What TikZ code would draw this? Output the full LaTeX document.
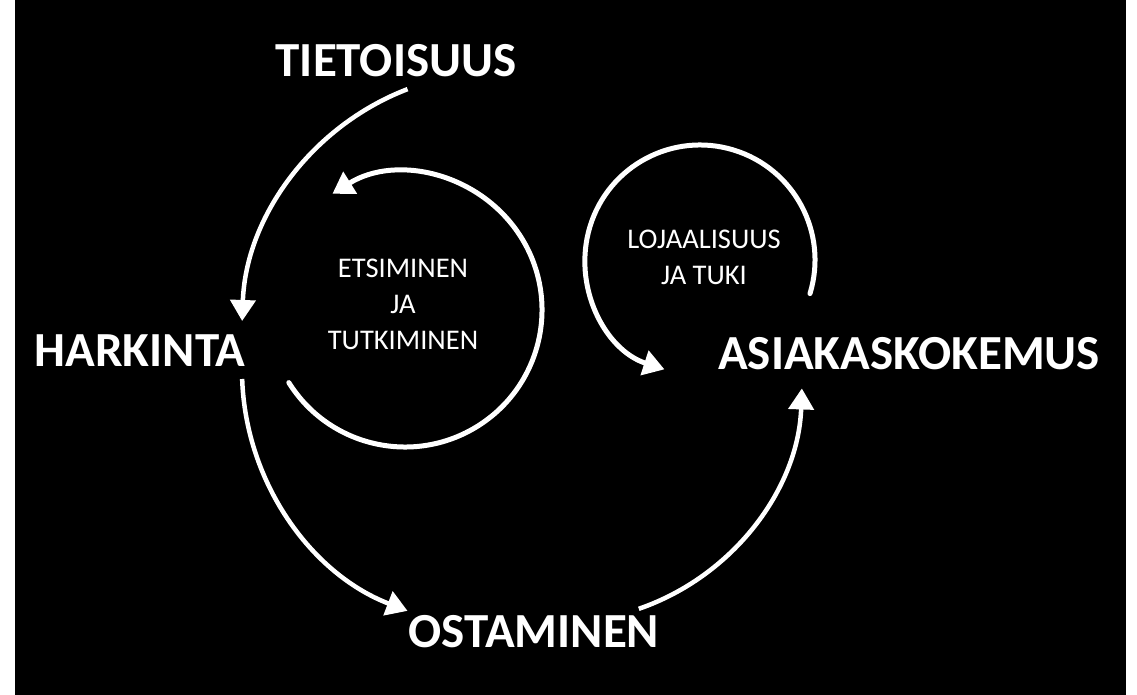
\documentclass[tikz,border=0pt]{standalone}
\usepackage{fontspec}
\setmainfont{Carlito}
\usepackage{tikz}
\usetikzlibrary{arrows.meta,calc}
\definecolor{tausta}{HTML}{000000}
\definecolor{reuna}{HTML}{FFFFFF}
\definecolor{valko}{HTML}{FFFFFF}
\tikzset{
  kaari/.style={draw=valko,line width=4.5pt,-{Triangle[length=21pt,width=25pt]}},
  rengas/.style={draw=valko,line width=5pt,line cap=round,-{Triangle[length=21pt,width=25pt]}},
  vaihe/.style={text=valko,font=\fontsize{49}{58}\selectfont\bfseries,inner sep=0pt,anchor=base},
  selite/.style={text=valko,font=\fontsize{28.5}{36}\selectfont,align=center,inner sep=0pt},
}

\begin{document}
\begin{tikzpicture}[x=1pt,y=1pt]
\useasboundingbox (0,0) rectangle (1137,695);
\fill[reuna] (0,0) rectangle (1137,695);
\fill[tausta] (15,0) rectangle (1126,695);
% keskipisteet
\coordinate (k1) at (500,365);
\coordinate (k2) at (405,385);
\coordinate (k3) at (700,435);
\coordinate (k4) at (500,325);
\coordinate (k5) at (560,315);
% vaiheet
\node[vaihe] (tietoisuus) at (396,618) {TIETOISUUS};
\node[vaihe] (harkinta) at (140,328) {HARKINTA};
\node[vaihe] (asiakaskokemus) at (909,325) {ASIAKASKOKEMUS};
\node[vaihe] (ostaminen) at (534,47) {OSTAMINEN};
\node[selite] (etsiminen) at (403,391) {ETSIMINEN\\JA\\TUTKIMINEN};
\node[selite] (lojaalisuus) at (704,438) {LOJAALISUUS\\JA TUKI};
% nuolet
\draw[kaari] ($(k1)+(111:258)$) coordinate (a1) arc[start angle=111,end angle=178,radius=258];
\draw[rengas] ($(k2)+(-148:137)$) coordinate (a2) arc[start angle=-148,end angle=122,radius=137];
\draw[rengas] ($(k3)+(-17:115)$) coordinate (a3) arc[start angle=-17,end angle=252,radius=115];
\draw[kaari] ($(k4)+(182:258)$) coordinate (a4) arc[start angle=182,end angle=249,radius=258];
\draw[kaari] ($(k5)+(-71:242)$) coordinate (a5) arc[start angle=-71,end angle=-2,radius=242];
\end{tikzpicture}
\end{document}
